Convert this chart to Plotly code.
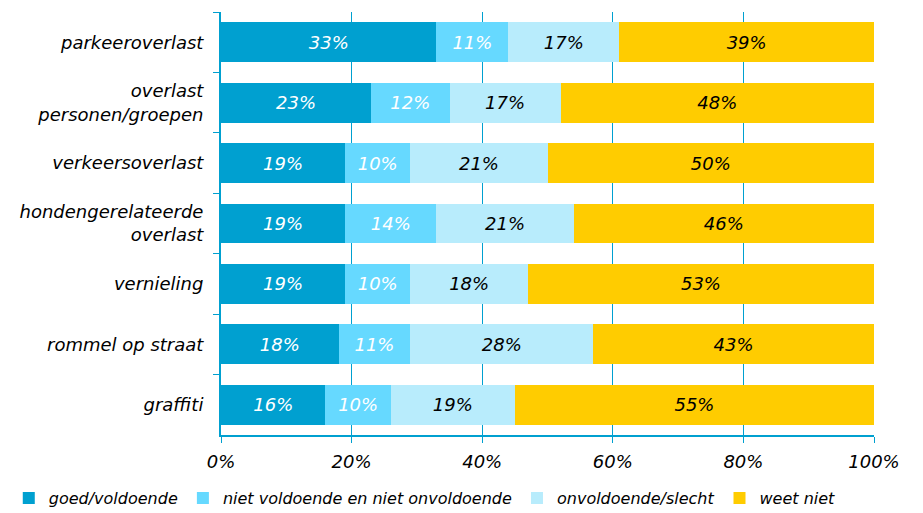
import plotly.graph_objects as go

categories = ["parkeeroverlast", "overlast<br>personen/groepen", "verkeersoverlast",
              "hondengerelateerde<br>overlast", "vernieling", "rommel op straat", "graffiti"]
series_names = ["goed/voldoende", "niet voldoende en niet onvoldoende",
                "onvoldoende/slecht", "weet niet"]
goed = [33, 23, 19, 19, 19, 18, 16]
niet = [11, 12, 10, 14, 10, 11, 10]
onv = [17, 17, 21, 21, 18, 28, 19]
weet = [39, 48, 50, 46, 53, 43, 55]
x_ticks = [0, 20, 40, 60, 80, 100]

colors = ["#00A0D0", "#66D9FF", "#B8ECFC", "#FFCC00"]
text_colors = ["white", "white", "black", "black"]
FONT = "Verdana, DejaVu Sans, sans-serif"
FS = 18

fig = go.Figure()
for name, vals, c, tc in zip(series_names, [goed, niet, onv, weet], colors, text_colors):
    fig.add_trace(go.Bar(
        y=categories, x=vals, name=name, orientation="h",
        marker=dict(color=c, line=dict(width=0)),
        text=[f"{v}%" for v in vals], textposition="inside", insidetextanchor="middle",
        textfont=dict(color=tc, size=FS, family=FONT, style="italic"),
        hoverinfo="skip",
    ))

fig.update_layout(
    barmode="stack", bargap=0.34,
    width=923, height=513,
    margin=dict(l=213, r=57, t=4, b=86, autoexpand=False),
    plot_bgcolor="white", paper_bgcolor="white",
    font=dict(family=FONT, size=FS, color="black", style="italic"),
    showlegend=True,
    legend=dict(orientation="h", x=-0.325, xanchor="left", y=-0.149, yanchor="middle",
                font=dict(size=16, family=FONT, style="italic"),
                itemwidth=30, traceorder="normal", tracegroupgap=0),
    uniformtext=dict(minsize=8, mode="show"),
)
fig.update_xaxes(range=[0, 100], tickvals=x_ticks, ticktext=[f"{t}%" for t in x_ticks],
                 showgrid=True, gridcolor="#00A0D0", gridwidth=1,
                 showline=True, linecolor="#00A0D0", linewidth=2,
                 ticks="outside", ticklen=6, tickcolor="#00A0D0",
                 tickfont=dict(size=FS, style="italic"), zeroline=False,
                 ticklabelstandoff=3)
fig.update_yaxes(categoryorder="array", categoryarray=categories, autorange="reversed",
                 showline=True, linecolor="#00A0D0", linewidth=2,
                 ticks="outside", tickson="boundaries", ticklen=6, tickcolor="#00A0D0",
                 tickfont=dict(size=FS, style="italic"), showgrid=False,
                 ticklabelstandoff=12)

fig.write_html("out.html")
